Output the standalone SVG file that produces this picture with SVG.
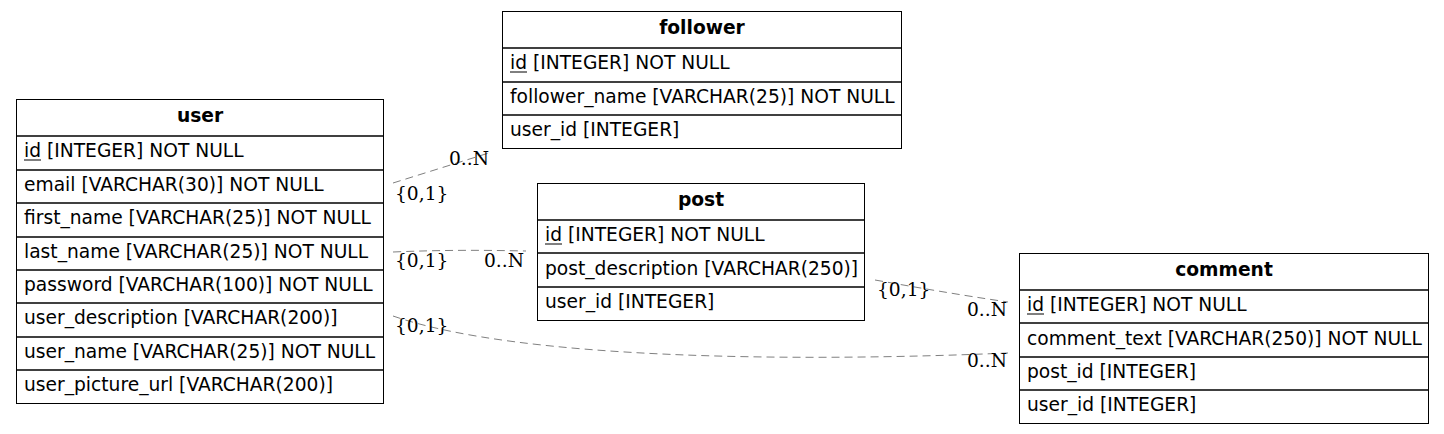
<svg xmlns="http://www.w3.org/2000/svg" width="1444" height="434" viewBox="0 0 1444 434">
<style>
.box{fill:#fff;stroke:#000;stroke-width:1}
.sep{stroke:#000;stroke-width:1.6}
.hd{font-family:"DejaVu Sans",sans-serif;font-weight:bold;font-size:18.67px;text-anchor:middle;fill:#000}
.f{font-family:"DejaVu Sans",sans-serif;font-size:18.67px;fill:#000}
.ul{stroke:#000;stroke-width:1}
.e{fill:none;stroke:#808080;stroke-width:1;stroke-dasharray:8,5}
.lb{font-family:"DejaVu Serif",serif;font-size:18.67px;fill:#000}
</style>
<rect width="1444" height="434" fill="#fff"/>
<g id="edges">
<path class="e" d="M393,183 L492,152"/>
<path class="e" d="M393,252 C440,250 480,250 526,251"/>
<path class="e" d="M875,280 C920,288 960,295 1008,302"/>
<path class="e" d="M393,316 C520,360 800,362 1008,353"/>
<text class="lb" x="449" y="165">0..N</text>
<text class="lb" x="395" y="200">{0,1}</text>
<text class="lb" x="395" y="267">{0,1}</text>
<text class="lb" x="484" y="267">0..N</text>
<text class="lb" x="877" y="296">{0,1}</text>
<text class="lb" x="967" y="316">0..N</text>
<text class="lb" x="395" y="332">{0,1}</text>
<text class="lb" x="967" y="367">0..N</text>
</g>
<g id="user">
<rect class="box" x="16.5" y="99.5" width="367" height="304"/>
<line class="sep" x1="16" y1="136" x2="384" y2="136"/>
<line class="sep" x1="16" y1="170" x2="384" y2="170"/>
<line class="sep" x1="16" y1="203" x2="384" y2="203"/>
<line class="sep" x1="16" y1="237" x2="384" y2="237"/>
<line class="sep" x1="16" y1="270" x2="384" y2="270"/>
<line class="sep" x1="16" y1="303" x2="384" y2="303"/>
<line class="sep" x1="16" y1="337" x2="384" y2="337"/>
<line class="sep" x1="16" y1="370" x2="384" y2="370"/>
<text class="hd" x="200" y="122">user</text>
<text class="f" x="24" y="157">id [INTEGER] NOT NULL</text>
<line class="ul" x1="24" y1="160" x2="41" y2="160"/>
<text class="f" x="24" y="191">email [VARCHAR(30)] NOT NULL</text>
<text class="f" x="24" y="224">first_name [VARCHAR(25)] NOT NULL</text>
<text class="f" x="24" y="258">last_name [VARCHAR(25)] NOT NULL</text>
<text class="f" x="24" y="291">password [VARCHAR(100)] NOT NULL</text>
<text class="f" x="24" y="324">user_description [VARCHAR(200)]</text>
<text class="f" x="24" y="358">user_name [VARCHAR(25)] NOT NULL</text>
<text class="f" x="24" y="391">user_picture_url [VARCHAR(200)]</text>
</g>
<g id="follower">
<rect class="box" x="502.5" y="11.5" width="399" height="137"/>
<line class="sep" x1="502" y1="48" x2="902" y2="48"/>
<line class="sep" x1="502" y1="82" x2="902" y2="82"/>
<line class="sep" x1="502" y1="115" x2="902" y2="115"/>
<text class="hd" x="702" y="34">follower</text>
<text class="f" x="510" y="69">id [INTEGER] NOT NULL</text>
<line class="ul" x1="510" y1="72" x2="527" y2="72"/>
<text class="f" x="510" y="103">follower_name [VARCHAR(25)] NOT NULL</text>
<text class="f" x="510" y="136">user_id [INTEGER]</text>
</g>
<g id="post">
<rect class="box" x="537.5" y="183.5" width="327" height="137"/>
<line class="sep" x1="537" y1="220" x2="865" y2="220"/>
<line class="sep" x1="537" y1="253" x2="865" y2="253"/>
<line class="sep" x1="537" y1="287" x2="865" y2="287"/>
<text class="hd" x="701" y="206">post</text>
<text class="f" x="545" y="241">id [INTEGER] NOT NULL</text>
<line class="ul" x1="545" y1="244" x2="562" y2="244"/>
<text class="f" x="545" y="275">post_description [VARCHAR(250)]</text>
<text class="f" x="545" y="308">user_id [INTEGER]</text>
</g>
<g id="comment">
<rect class="box" x="1019.5" y="253.5" width="409" height="170"/>
<line class="sep" x1="1019" y1="290" x2="1429" y2="290"/>
<line class="sep" x1="1019" y1="323" x2="1429" y2="323"/>
<line class="sep" x1="1019" y1="357" x2="1429" y2="357"/>
<line class="sep" x1="1019" y1="390" x2="1429" y2="390"/>
<text class="hd" x="1224" y="276">comment</text>
<text class="f" x="1027" y="311">id [INTEGER] NOT NULL</text>
<line class="ul" x1="1027" y1="314" x2="1044" y2="314"/>
<text class="f" x="1027" y="345">comment_text [VARCHAR(250)] NOT NULL</text>
<text class="f" x="1027" y="378">post_id [INTEGER]</text>
<text class="f" x="1027" y="411">user_id [INTEGER]</text>
</g>
</svg>
